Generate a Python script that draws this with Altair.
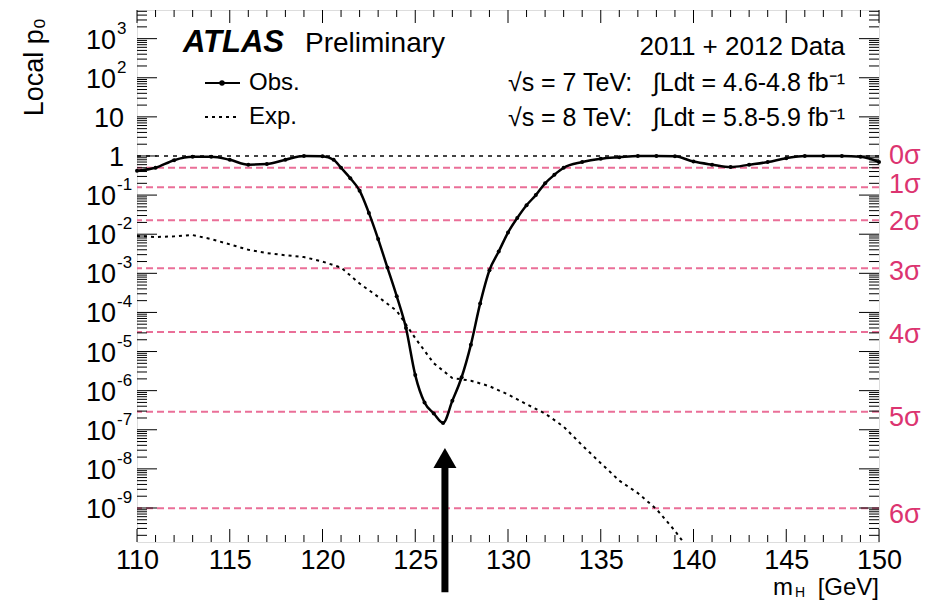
import altair as alt
import pandas as pd

FONT = "Liberation Sans"

# ---------------- data ----------------
mass_obs = [110.0, 111.0, 112.0, 113.0, 114.0, 115.0, 116.0, 117.0, 118.0, 119.0,
            120.0, 120.6, 121.0, 121.5, 122.0, 122.5, 123.0, 123.5, 124.0, 124.5,
            125.0, 125.5, 126.0, 126.5, 127.0, 127.5, 128.0, 128.5, 129.0, 129.5,
            130.0, 130.5, 131.0, 131.5, 132.0, 132.5, 133.0, 134.0, 135.0, 136.0,
            137.0, 138.0, 139.0, 140.0, 141.0, 142.0, 143.0, 144.0, 145.0, 146.0,
            147.0, 148.0, 149.0, 150.0]
p0_obs = [0.42, 0.50, 0.78, 0.95, 0.95, 0.80, 0.60, 0.62, 0.80, 1.0,
          0.98, 0.80, 0.50, 0.27, 0.13, 0.035, 7.5e-3, 1.4e-3, 2.6e-4, 4.0e-5,
          2.5e-6, 5.0e-7, 2.6e-7, 1.5e-7, 5.5e-7, 2.2e-6, 1.5e-5, 1.7e-4, 1.2e-3, 3.6e-3,
          1.1e-2, 2.6e-2, 5.5e-2, 0.10, 0.20, 0.33, 0.50, 0.70, 0.85, 0.93,
          1.0, 1.0, 0.98, 0.72, 0.60, 0.52, 0.60, 0.70, 0.88, 1.0,
          1.0, 1.0, 0.95, 0.70]

mass_exp = [110, 111, 112, 113, 114, 115, 116, 117, 118, 119, 120, 121, 122, 123,
            124, 125, 126, 127, 128, 129, 130, 131, 132, 133, 134, 135, 136, 137,
            138, 139, 140, 141]
p0_exp = [9.0e-3, 8.5e-3, 8.8e-3, 9.5e-3, 7.5e-3, 5.5e-3, 4.0e-3, 3.3e-3, 2.9e-3, 2.6e-3,
          2.0e-3, 1.4e-3, 5.5e-4, 2.5e-4, 1.1e-4, 2.2e-5, 5.0e-6, 2.1e-6, 1.8e-6, 1.3e-6,
          8.0e-7, 4.5e-7, 2.6e-7, 1.2e-7, 4.0e-8, 1.4e-8, 5.0e-9, 2.4e-9, 9.4e-10, 2.6e-10,
          6.0e-11, 1.0e-11]

sigma_names = ["0σ", "1σ", "2σ", "3σ", "4σ", "5σ", "6σ"]
sigma_p0 = [0.5, 0.1587, 0.02275, 1.35e-3, 3.17e-5, 2.87e-7, 9.87e-10]
sigma_label_p0 = [1.0, 0.18, 0.0205, 1.07e-3, 2.6e-5, 2.0e-7, 6.6e-10]

x_tick_labels = [110, 115, 120, 125, 130, 135, 140, 145, 150]
y_label_exps = [3, 2, 1, 0, -1, -2, -3, -4, -5, -6, -7, -8, -9]

arrow_mass = [126.6]
arrow_tip = [1.9e-8]
arrow_shaft_top = [1.7e-8]
arrow_shaft_bottom = [7e-12]

# ---------------- geometry ----------------
W, H = 742, 532
YMIN, YMAX = 1.35e-10, 5400.0
NB = "\u00a0"

xs = alt.Scale(domain=[110, 150], nice=False, zero=False)
ys = alt.Scale(type="log", domain=[YMIN, YMAX], nice=False)
xaxis = alt.Axis(values=x_tick_labels, title=None, labelFontSize=27, labelFont=FONT,
                 labelColor="black", labelPadding=5, ticks=False, domain=False,
                 grid=False, labelFlush=False, labelOverlap=False)


def X(f):
    return alt.X(f, type="quantitative", scale=xs, axis=xaxis)


def Y(f):
    return alt.Y(f, type="quantitative", scale=ys, axis=None)


obs = pd.DataFrame({"m": mass_obs, "p": p0_obs})
exp = pd.DataFrame({"m": mass_exp, "p": p0_exp})
sig = pd.DataFrame({"p": sigma_p0})
sig_lab = pd.DataFrame({"p": sigma_label_p0, "t": sigma_names})

# ticks (axis furniture)
y_major = [10.0 ** e for e in range(-9, 4)]
y_minor = [k * 10.0 ** e for e in range(-10, 4) for k in range(2, 10)
           if YMIN <= k * 10.0 ** e <= YMAX]
x_major = list(range(110, 151, 5))
x_minor = [v for v in range(110, 151) if v % 5]

ymaj = pd.DataFrame({"p": y_major})
ymin_ = pd.DataFrame({"p": y_minor})
xmaj = pd.DataFrame({"m": x_major})
xmin_ = pd.DataFrame({"m": x_minor})

layers = []

# sigma reference lines
layers.append(alt.Chart(sig).mark_rule(color="#ea6f98", strokeDash=[7, 4], strokeWidth=2)
              .encode(y=Y("p")))
# line at p0 = 1
layers.append(alt.Chart(pd.DataFrame({"p": [1.0]}))
              .mark_rule(color="#444444", strokeDash=[4, 5], strokeWidth=2)
              .encode(y=Y("p")))

# expected
layers.append(alt.Chart(exp).mark_line(color="black", strokeDash=[3, 4], strokeWidth=2, clip=True)
              .encode(x=X("m"), y=Y("p")))
# observed
layers.append(alt.Chart(obs).mark_line(color="black", strokeWidth=2.5, interpolate="monotone", clip=True)
              .encode(x=X("m"), y=Y("p")))
layers.append(alt.Chart(obs).mark_point(color="black", filled=True, size=16, opacity=1)
              .encode(x=X("m"), y=Y("p")))

# ticks: left/right (y), bottom/top (x)
for df, L in ((ymaj, 20), (ymin_, 10)):
    layers.append(alt.Chart(df).mark_rule(color="black", strokeWidth=1)
                  .encode(y=Y("p"), x=alt.value(0), x2=alt.value(L)))
    layers.append(alt.Chart(df).mark_rule(color="black", strokeWidth=1)
                  .encode(y=Y("p"), x=alt.value(W), x2=alt.value(W - L)))
for df, L in ((xmaj, 13), (xmin_, 7)):
    layers.append(alt.Chart(df).mark_rule(color="black", strokeWidth=1)
                  .encode(x=X("m"), y=alt.value(H), y2=alt.value(H - L)))
    layers.append(alt.Chart(df).mark_rule(color="black", strokeWidth=1)
                  .encode(x=X("m"), y=alt.value(0), y2=alt.value(L)))

# y labels
ylab_sup = pd.DataFrame({"p": [10.0 ** e for e in y_label_exps if e not in (0, 1)],
                         "b": ["10" for e in y_label_exps if e not in (0, 1)],
                         "s": [str(e) for e in y_label_exps if e not in (0, 1)]})
ylab_plain = pd.DataFrame({"p": [10.0 ** e for e in y_label_exps if e in (0, 1)],
                           "b": ["10" if e == 1 else "1" for e in y_label_exps if e in (0, 1)]})
layers.append(alt.Chart(ylab_sup).mark_text(align="right", baseline="middle", fontSize=27,
                                            font=FONT, color="black", dy=2)
              .encode(y=Y("p"), x=alt.value(-21), text="b:N"))
layers.append(alt.Chart(ylab_sup).mark_text(align="left", baseline="middle", fontSize=17,
                                            font=FONT, color="black", dy=-10)
              .encode(y=Y("p"), x=alt.value(-20), text="s:N"))
layers.append(alt.Chart(ylab_plain).mark_text(align="right", baseline="middle", fontSize=27,
                                              font=FONT, color="black", dy=2)
              .encode(y=Y("p"), x=alt.value(-13), text="b:N"))

# sigma labels
layers.append(alt.Chart(sig_lab).mark_text(align="left", baseline="middle", fontSize=27,
                                           font=FONT, color="#dc3470")
              .encode(y=Y("p"), x=alt.value(W + 10), text="t:N"))

# arrow
arr = pd.DataFrame({"m": arrow_mass, "tip": arrow_tip, "top": arrow_shaft_top,
                    "bot": arrow_shaft_bottom})
layers.append(alt.Chart(arr).mark_rule(color="black", strokeWidth=7, clip=False)
              .encode(x=X("m"), y=Y("top"), y2="bot"))
layers.append(alt.Chart(arr).mark_point(shape="triangle-up", filled=True, color="black",
                                        size=530, opacity=1, clip=False)
              .encode(x=X("m"), y=Y("tip")))


def txt(s, x, y, **kw):
    props = dict(font=FONT, color="black", baseline="alphabetic", align="left")
    props.update(kw)
    return (alt.Chart(pd.DataFrame({"t": [s]})).mark_text(**props)
            .encode(text="t:N", x=alt.value(x), y=alt.value(y)))


# header texts
layers.append(txt("ATLAS", 46, 42, fontSize=31, fontWeight="bold", fontStyle="italic"))
layers.append(txt("Preliminary", 168, 42, fontSize=28))
layers.append(txt("2011 + 2012 Data", 708, 45, fontSize=26, align="right"))
layers.append(txt("√s = 7 TeV:" + NB * 3 + "∫Ldt = 4.6-4.8 fb⁻¹", 708, 81, fontSize=25, align="right"))
layers.append(txt("√s = 8 TeV:" + NB * 3 + "∫Ldt = 5.8-5.9 fb⁻¹", 708, 116, fontSize=25, align="right"))

# legend
layers.append(alt.Chart(pd.DataFrame({"a": [0]})).mark_rule(color="black", strokeWidth=2)
              .encode(x=alt.value(68), x2=alt.value(103), y=alt.value(73)))
layers.append(alt.Chart(pd.DataFrame({"a": [0]})).mark_point(color="black", filled=True,
                                                             size=30, opacity=1)
              .encode(x=alt.value(85), y=alt.value(73)))
layers.append(alt.Chart(pd.DataFrame({"a": [0]})).mark_rule(color="black", strokeWidth=2,
                                                            strokeDash=[3, 4])
              .encode(x=alt.value(68), x2=alt.value(103), y=alt.value(107)))
layers.append(txt("Obs.", 112, 73, fontSize=24, baseline="middle"))
layers.append(txt("Exp.", 112, 107, fontSize=24, baseline="middle"))

# axis titles
layers.append(txt("Local p₀", -94, 8, fontSize=27, angle=270, align="right"))
layers.append(txt("[GeV]", W, 585, fontSize=24, align="right"))
layers.append(txt("H", W - 74, 587, fontSize=14, align="right"))
layers.append(txt("m", W - 86, 585, fontSize=24, align="right"))

chart = (alt.layer(*layers)
         .properties(width=W, height=H,
                     autosize=alt.AutoSizeParams(type="none"),
                     padding={"left": 129, "top": 2, "right": 43, "bottom": 58})
         .configure_view(stroke="black", strokeWidth=1.5)
         .configure(background="white"))

chart.save("out.html", embed_options={"renderer": "svg", "actions": False})
